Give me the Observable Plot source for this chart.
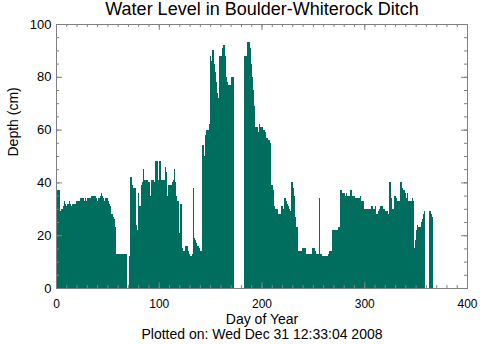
<!DOCTYPE html>
<html>
<head>
<meta charset="utf-8">
<script src="https://cdn.jsdelivr.net/npm/d3@7"></script>
<script src="https://cdn.jsdelivr.net/npm/@observablehq/plot@0.6"></script>
<style>
  html, body { margin: 0; padding: 0; background: #fff; }
  svg { display: block; }
</style>
</head>
<body>
<div id="chart"></div>
<script>
// ---- Data ----
const titleText = "Water Level in Boulder-Whiterock Ditch";
const xLabelText = "Day of Year";
const yLabelText = "Depth (cm)";
const captionText = "Plotted on: Wed Dec 31 12:33:04 2008";

// first day of the series; one value per day, null = no data
const firstDay = 0;
const depthCm = [
  37,37,37,37,29,30,30,31,33,32, 31,32,32,33,32,31,32,32,32,33,
  33,33,33,34,34,34,34,33,34,33, 34,34,34,34,35,35,35,35,35,34,
  33,34,34,35,36,35,34,33,34,34, 34,33,32,31,28,27,26,23,13,13,
  13,13,13,13,13,13,13,13,13,null, null,12,42,42,39,38,38,38,24,22,
  36,31,31,39,40,45,41,41,41,41, 40,35,41,41,41,40,48,48,48,41,
  48,48,41,41,41,41,46,44,35,39, 39,39,39,40,41,45,40,35,33,33,
  21,32,32,15,14,14,16,16,14,13, 12,12,13,38,19,18,17,16,16,15,
  14,14,54,54,50,58,60,60,60,62, 88,86,90,90,85,82,78,74,72,88,
  88,88,91,92,88,80,78,77,77,77, 80,80,80,null,null,null,null,null,null,null,
  null,null,null,88,88,88,93,93,93,91, 85,80,75,69,61,61,61,59,62,61,
  61,60,60,59,57,57,56,56,55,39, 39,37,31,30,30,30,28,28,28,31,
  31,30,34,34,33,32,31,30,29,40, 40,38,35,27,23,23,14,14,14,15,
  15,15,15,13,13,13,13,13,13,15, 15,15,14,13,13,13,34,13,13,12,
  12,12,12,12,12,13,14,14,14,22, 22,22,22,22,23,23,37,37,36,36,
  36,35,36,35,35,35,37,37,35,35, 35,34,34,34,34,34,35,33,33,33,
  30,30,30,30,30,30,30,31,31,30, 31,28,28,29,30,31,31,31,30,30,
  29,29,29,28,40,40,34,30,30,35, 35,34,33,33,33,40,40,38,37,37,
  36,34,36,33,33,33,34,33,15,18, 22,24,23,23,23,25,26,28,29,null,
  null,null,null,29,29,28,27
];

const xDomain = [0, 400];
const yDomain = [0, 100];
const xMajorTicks = [0, 100, 200, 300, 400];
const xMinorTicks = d3.range(0, 401, 10);
const yMajorTicks = [0, 20, 40, 60, 80, 100];
const yMinorTicks = d3.range(0, 101, 5);

// ---- Layout / style ----
const W = 480, H = 344;
const mL = 56, mR = 13, mT = 24, mB = 56;
const frameW = W - mL - mR, frameH = H - mT - mB;
const barColor = "#006e5e";
const axisColor = "#808080";
const font = "'Liberation Sans', Arial, Helvetica, sans-serif";

const rows = depthCm
  .map((v, i) => ({start: firstDay + i, end: firstDay + i + 1, depth: v}))
  .filter(d => d.depth != null);

const majorLen = 6, minorLen = 3;

const chart = Plot.plot({
  width: W,
  height: H,
  marginLeft: mL,
  marginRight: mR,
  marginTop: mT,
  marginBottom: mB,
  style: {fontFamily: font, background: "#fff", color: "#000"},
  x: {domain: xDomain, label: null},
  y: {domain: yDomain, label: null},
  marks: [
    Plot.rectY(rows, {x1: "start", x2: "end", y1: 0, y2: "depth", fill: barColor, inset: 0, shapeRendering: "crispEdges"}),
    Plot.frame({stroke: axisColor, strokeWidth: 1}),
    // inward ticks on all four sides
    Plot.tickX(xMinorTicks, {x: d => d, stroke: axisColor, insetTop: frameH - minorLen}),
    Plot.tickX(xMinorTicks, {x: d => d, stroke: axisColor, insetBottom: frameH - minorLen}),
    Plot.tickX(xMajorTicks, {x: d => d, stroke: axisColor, insetTop: frameH - majorLen}),
    Plot.tickX(xMajorTicks, {x: d => d, stroke: axisColor, insetBottom: frameH - majorLen}),
    Plot.tickY(yMinorTicks, {y: d => d, stroke: axisColor, insetRight: frameW - minorLen}),
    Plot.tickY(yMinorTicks, {y: d => d, stroke: axisColor, insetLeft: frameW - minorLen}),
    Plot.tickY(yMajorTicks, {y: d => d, stroke: axisColor, insetRight: frameW - majorLen}),
    Plot.tickY(yMajorTicks, {y: d => d, stroke: axisColor, insetLeft: frameW - majorLen}),
    Plot.axisX({ticks: xMajorTicks, tickSize: 0, tickPadding: 11, fontSize: 12, label: null}),
    Plot.axisY({ticks: yMajorTicks, tickSize: 0, tickPadding: 5, fontSize: 13, label: null}),
    Plot.text([titleText], {frameAnchor: "top", dy: -15.5, fontSize: 18, lineAnchor: "middle", fill: "#000"}),
    Plot.text([xLabelText], {frameAnchor: "bottom", dy: 31, fontSize: 14, lineAnchor: "middle", fill: "#000"}),
    Plot.text([captionText], {frameAnchor: "bottom", dy: 46, fontSize: 14, lineAnchor: "middle", fill: "#000"}),
    Plot.text([yLabelText], {frameAnchor: "left", dx: -43, rotate: -90, fontSize: 14, lineAnchor: "middle", fill: "#000"})
  ]
});

document.getElementById("chart").appendChild(chart);
</script>
</body>
</html>
